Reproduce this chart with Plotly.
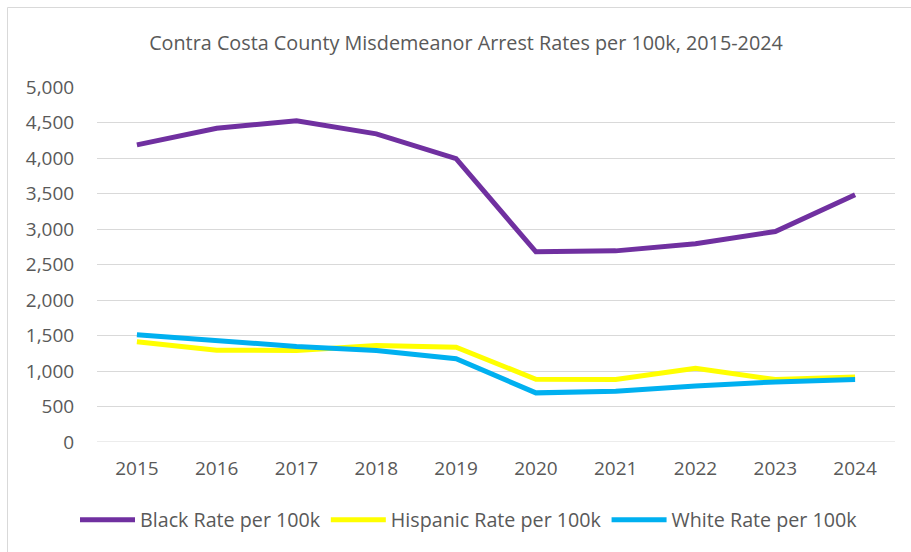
import plotly.graph_objects as go

years = ["2015", "2016", "2017", "2018", "2019", "2020", "2021", "2022", "2023", "2024"]
black_rate = [4185, 4420, 4523, 4340, 3990, 2678, 2692, 2791, 2965, 3481]
hispanic_rate = [1411, 1292, 1290, 1360, 1336, 883, 879, 1037, 880, 915]
white_rate = [1510, 1425, 1346, 1290, 1173, 692, 715, 790, 846, 879]

series_names = ["Black Rate per 100k", "Hispanic Rate per 100k", "White Rate per 100k"]
series_colors = ["#7030A0", "#FFFF00", "#00B0F0"]
y_ticks = [0, 500, 1000, 1500, 2000, 2500, 3000, 3500, 4000, 4500, 5000]

FONT = "Open Sans"
TXT = "#595959"
GRID = "#D9D9D9"

W, H = 911, 552
L, R, T, B = 97, 16, 87, 110
pw, ph = W - L - R, H - T - B

fig = go.Figure()
for name, vals, col in zip(series_names, [black_rate, hispanic_rate, white_rate], series_colors):
    fig.add_trace(go.Scatter(x=years, y=vals, name=name, mode="lines",
                             line=dict(color=col, width=5), hoverinfo="x+y+name"))

def px(xp):
    return (xp - L) / pw

def py(yp):
    return (H - B - yp) / ph

fig.update_layout(
    width=W, height=H,
    margin=dict(l=L, r=R, t=T, b=B),
    paper_bgcolor="white", plot_bgcolor="white",
    font=dict(family=FONT, color=TXT, size=19),
    title=dict(text="Contra Costa County Misdemeanor Arrest Rates per 100k, 2015-2024",
               x=466 / W, xanchor="center", y=1 - 43 / H, yanchor="middle",
               font=dict(family=FONT, size=19.8, color=TXT)),
    xaxis=dict(type="category", range=[-0.5, 9.5], showgrid=False, showline=False, zeroline=False,
               ticks="outside", ticklen=9, tickcolor="rgba(0,0,0,0)",
               tickfont=dict(size=19, color=TXT)),
    yaxis=dict(range=[0, 5000], tickvals=y_ticks, tickformat=",", showgrid=True,
               gridcolor=GRID, gridwidth=1, zeroline=False, showline=False,
               ticks="outside", ticklen=18, tickcolor="rgba(0,0,0,0)",
               tickfont=dict(size=19, color=TXT)),
    legend=dict(orientation="h", x=px(469), xanchor="center", y=py(520), yanchor="middle",
                itemwidth=55, font=dict(size=19.7, color=TXT), bgcolor="rgba(0,0,0,0)",
                tracegroupgap=0),
    shapes=[
        dict(type="line", xref="paper", yref="paper", x0=px(7.5), x1=px(7.5), y0=py(7.5), y1=py(560),
             line=dict(color=GRID, width=1)),
        dict(type="line", xref="paper", yref="paper", x0=px(7.5), x1=px(920), y0=py(7.5), y1=py(7.5),
             line=dict(color=GRID, width=1)),
        dict(type="line", xref="paper", yref="y", x0=0, x1=1, y0=0, y1=0,
             line=dict(color=GRID, width=1), layer="below"),
    ],
)

fig.write_html("out.html", config={"displayModeBar": False},
               post_script="document.body.style.margin='0';")
